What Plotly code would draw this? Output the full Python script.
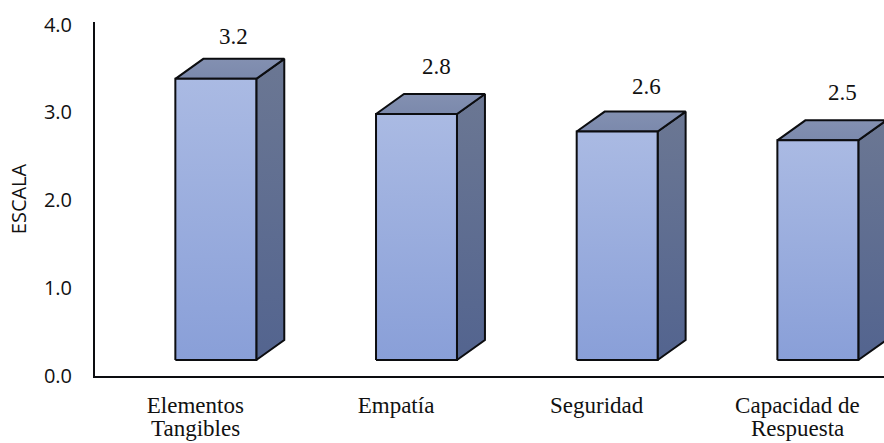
import plotly.graph_objects as go

categories = ["Elementos", "Empatía", "Seguridad", "Capacidad de"]
second_lines = ["Tangibles", "", "", "Respuesta"]
values = [3.2, 2.8, 2.6, 2.5]
y_ticks = [0, 1, 2, 3, 4]
value_label_dx = [-1, 1, 10, 6]
value_label_dy = [-1, 4, 2, 4]

# Extruded-box geometry, in axis units
PX_PER_Y = 88.0
PX_PER_X = 200.8
HALF_W = 40.5 / PX_PER_X
SHIFT_X = 20.5 / PX_PER_X
DEPTH_X = 28.0 / PX_PER_X
DEPTH_Y = 20.0 / PX_PER_Y
BASE_Y = 16.0 / PX_PER_Y

OUTLINE = "#0c0d10"
SERIF = "Liberation Serif"
SANS = "Open Sans"


def face(xs, ys, top_color, bottom_color):
    return go.Scatter(
        x=xs + xs[:1], y=ys + ys[:1], mode="lines", fill="toself",
        fillgradient=dict(type="vertical",
                          colorscale=[[0, bottom_color], [1, top_color]]),
        line=dict(color=OUTLINE, width=2),
        hoverinfo="skip", showlegend=False,
    )


fig = go.Figure()
for i, v in enumerate(values):
    x0 = i + SHIFT_X - HALF_W
    x1 = i + SHIFT_X + HALF_W
    y0 = BASE_Y
    y1 = BASE_Y + v
    fig.add_trace(face([x1, x1 + DEPTH_X, x1 + DEPTH_X, x1],
                       [y0, y0 + DEPTH_Y, y1 + DEPTH_Y, y1], "#6B7793", "#53648F"))
    fig.add_trace(face([x0, x1, x1 + DEPTH_X, x0 + DEPTH_X],
                       [y1, y1, y1 + DEPTH_Y, y1 + DEPTH_Y], "#8390B1", "#7B89AC"))
    fig.add_trace(face([x0, x1, x1, x0],
                       [y0, y0, y1, y1], "#AABAE3", "#899FD8"))
    fig.add_annotation(
        x=i + SHIFT_X + 19 / PX_PER_X, y=y1 + DEPTH_Y, text=f"{v:.1f}",
        showarrow=False, yanchor="bottom",
        xshift=value_label_dx[i], yshift=9 + value_label_dy[i],
        font=dict(family=SERIF, size=23, color="#111111"),
    )
    if second_lines[i]:
        fig.add_annotation(
            x=i, y=0, text=second_lines[i], showarrow=False, yanchor="middle",
            yshift=-52, font=dict(family=SERIF, size=23, color="#111111"),
        )

fig.update_layout(
    width=884, height=443,
    margin=dict(l=94.5, r=0, t=22, b=66.5, pad=0),
    paper_bgcolor="white", plot_bgcolor="white",
    showlegend=False,
    xaxis=dict(
        range=[-0.5, -0.5 + 789.5 / PX_PER_X],
        tickmode="array", tickvals=list(range(len(categories))), ticktext=categories,
        showgrid=False, zeroline=False, showline=True, linecolor=OUTLINE, linewidth=2,
        ticks="", ticklabelstandoff=7,
        tickfont=dict(family=SERIF, size=23, color="#111111"),
    ),
    yaxis=dict(
        range=[0, 354.5 / PX_PER_Y],
        tickmode="array", tickvals=y_ticks, ticktext=[f"{t:.1f}" for t in y_ticks],
        showgrid=False, zeroline=False, showline=True, linecolor=OUTLINE, linewidth=2,
        ticks="", ticklabelstandoff=17,
        tickfont=dict(family=SANS, size=20, color="#111111"),
        title=dict(text="ESCALA", standoff=12, font=dict(family=SANS, size=20, color="#111111")),
    ),
)
fig.write_html("out.html")
